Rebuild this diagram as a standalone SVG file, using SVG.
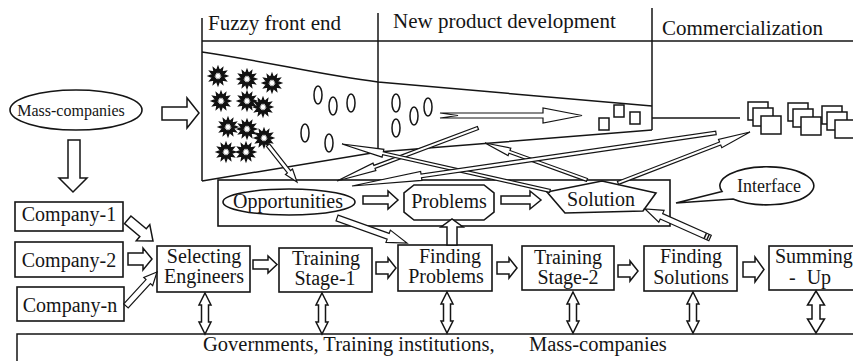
<svg xmlns="http://www.w3.org/2000/svg" xmlns:xlink="http://www.w3.org/1999/xlink" width="853" height="361" viewBox="0 0 853 361">
  <style>
    text { font-family: "Liberation Serif", "Times New Roman", serif; fill: #151515; }
    .t20 { font-size: 20px; }
    .hd { font-size: 21px; }
    .ln { fill: none; stroke: #151515; stroke-width: 1.5; }
    .box { fill: #fff; stroke: #151515; stroke-width: 1.6; }
    .blk { fill: #fff; stroke: #151515; stroke-width: 1.5; stroke-linejoin: miter; }
    .thin { fill: #fff; stroke: #151515; stroke-width: 1.2; stroke-linejoin: miter; }
    .burst { fill: #fff; stroke: #111; stroke-width: 2.6; stroke-linejoin: miter; }
    .oval { fill: #fff; stroke: #151515; stroke-width: 1.5; }
    .sq { fill: #fff; stroke: #151515; stroke-width: 1.5; }
  </style>
  <defs>
    <!-- spiky idea burst -->
    <polygon id="burst" class="burst" points="7.5,0 4.35,1.16 6.5,3.75 3.18,3.18 3.75,6.5 1.16,4.35 0,7.5 -1.16,4.35 -3.75,6.5 -3.18,3.18 -6.5,3.75 -4.35,1.16 -7.5,0 -4.35,-1.16 -6.5,-3.75 -3.18,-3.18 -3.75,-6.5 -1.16,-4.35 0,-7.5 1.16,-4.35 3.75,-6.5 3.18,-3.18 6.5,-3.75 4.35,-1.16"/>
    <!-- refined concept -->
    <ellipse id="oval" class="oval" cx="0" cy="0" rx="4" ry="9"/>
    <!-- small product square -->
    <rect id="sq" class="sq" x="0" y="0" width="20" height="18"/>
    <!-- two-way vertical block arrow -->
    <polygon id="dbl" class="blk" points="0,0 6,12 3.5,12 3.5,29 6,29 0,41 -6,29 -3.5,29 -3.5,12 -6,12"/>
    <!-- three stacked products -->
    <g id="stack">
      <use xlink:href="#sq" x="0" y="0"/>
      <use xlink:href="#sq" x="5" y="6"/>
      <use xlink:href="#sq" x="13" y="14"/>
    </g>
  </defs>

  <!-- phase header -->
  <g id="phases">
    <line class="ln" x1="202" y1="18" x2="202" y2="181"/>
    <line class="ln" x1="378" y1="13" x2="378" y2="152"/>
    <line class="ln" x1="652" y1="8" x2="652" y2="130"/>
    <line class="ln" x1="202" y1="41" x2="853" y2="41"/>
    <text class="hd" x="208" y="30">Fuzzy front end</text>
    <text class="hd" x="393" y="28">New product development</text>
    <text class="hd" x="662" y="35">Commercialization</text>
  </g>

  <!-- innovation funnel -->
  <g id="funnel">
    <path class="ln" d="M202,52 C270,62 320,75 378,82 L652,106"/>
    <path class="ln" d="M202,181 L378,152 L652,130"/>
    <use xlink:href="#burst" x="218" y="76"/>
    <use xlink:href="#burst" x="247" y="79"/>
    <use xlink:href="#burst" x="272" y="83"/>
    <use xlink:href="#burst" x="221" y="101"/>
    <use xlink:href="#burst" x="247" y="101"/>
    <use xlink:href="#burst" x="263" y="107"/>
    <use xlink:href="#burst" x="228" y="127"/>
    <use xlink:href="#burst" x="247" y="129"/>
    <use xlink:href="#burst" x="264" y="138"/>
    <use xlink:href="#burst" x="226" y="152"/>
    <use xlink:href="#burst" x="246" y="152"/>
    <use xlink:href="#oval" x="318" y="95"/>
    <use xlink:href="#oval" x="333" y="106"/>
    <use xlink:href="#oval" x="351" y="103"/>
    <use xlink:href="#oval" x="305" y="133"/>
    <use xlink:href="#oval" x="329" y="143"/>
    <use xlink:href="#oval" x="396" y="103"/>
    <use xlink:href="#oval" x="396" y="128"/>
    <use xlink:href="#oval" x="414" y="116"/>
    <use xlink:href="#oval" x="428" y="107"/>
    <rect class="sq" x="599" y="118" width="10" height="12"/>
    <rect class="sq" x="614" y="105" width="10" height="12"/>
    <rect class="sq" x="630" y="112" width="10" height="12"/>
  </g>

  <!-- launched products -->
  <g id="products">
    <use xlink:href="#stack" x="748" y="102"/>
    <use xlink:href="#stack" x="788" y="103"/>
    <use xlink:href="#stack" x="822" y="106"/>
  </g>

  <g id="mass-companies">
    <ellipse class="box" cx="76" cy="110" rx="66" ry="20"/>
    <text x="71" y="116" font-size="16" text-anchor="middle">Mass-companies</text>
  </g>

  <g id="company-1">
    <rect class="box" x="15" y="202" width="108" height="29"/>
    <text class="t20" x="69" y="221" text-anchor="middle">Company-1</text>
  </g>
  <g id="company-2">
    <rect class="box" x="15" y="242" width="108" height="35"/>
    <text class="t20" x="69" y="267" text-anchor="middle">Company-2</text>
  </g>
  <g id="company-n">
    <rect class="box" x="17" y="287" width="107" height="34"/>
    <text class="t20" x="70" y="312" text-anchor="middle">Company-n</text>
  </g>

  <!-- opportunity / problem / solution panel -->
  <g id="panel">
    <rect class="box" x="218" y="180" width="452" height="46" fill="none"/>
  </g>
  <g id="opportunities">
    <ellipse class="box" cx="289" cy="202" rx="66" ry="13"/>
    <text class="t20" x="288" y="208" text-anchor="middle">Opportunities</text>
  </g>
  <g id="problems">
    <polygon class="box" points="414,185 484,185 494,193 494,212 484,220 414,220 404,212 404,193"/>
    <text class="t20" x="449" y="208" text-anchor="middle">Problems</text>
  </g>
  <g id="solution">
    <polygon class="box" points="547,192 602,181 656,193 643,211 565,213"/>
    <text class="t20" x="601" y="206" text-anchor="middle">Solution</text>
  </g>
  <g id="interface">
    <path class="box" d="M722,191.5 L676,203 L733,199 A47,19 0 1 0 722,191.5 Z"/>
    <text x="769" y="192" font-size="18" text-anchor="middle">Interface</text>
  </g>

  <!-- training process -->
  <g id="selecting-engineers">
    <rect class="box" x="157" y="246" width="93" height="46"/>
    <text class="t20" x="204" y="263" text-anchor="middle">Selecting</text>
    <text class="t20" x="204" y="283" text-anchor="middle">Engineers</text>
  </g>
  <g id="training-stage-1">
    <rect class="box" x="279" y="248" width="93" height="44"/>
    <text class="t20" x="326" y="265" text-anchor="middle">Training</text>
    <text class="t20" x="325" y="285" text-anchor="middle">Stage-1</text>
  </g>
  <g id="finding-problems">
    <rect class="box" x="398" y="245" width="94" height="46"/>
    <text class="t20" x="450" y="263" text-anchor="middle">Finding</text>
    <text class="t20" x="446" y="283" text-anchor="middle">Problems</text>
  </g>
  <g id="training-stage-2">
    <rect class="box" x="522" y="246" width="92" height="44"/>
    <text class="t20" x="568" y="264" text-anchor="middle">Training</text>
    <text class="t20" x="568" y="284" text-anchor="middle">Stage-2</text>
  </g>
  <g id="finding-solutions">
    <rect class="box" x="644" y="246" width="93" height="45"/>
    <text class="t20" x="691" y="263" text-anchor="middle">Finding</text>
    <text class="t20" x="691" y="284" text-anchor="middle">Solutions</text>
  </g>
  <g id="summing-up">
    <rect class="box" x="769" y="246" width="100" height="44"/>
    <text class="t20" x="775" y="263">Summing</text>
    <text class="t20" x="789" y="284" word-spacing="6">- Up</text>
  </g>

  <g id="stakeholders">
    <path class="ln" d="M17,361 L17,334 L853,334"/>
    <text x="203" y="351" font-size="20.5">Governments, Training institutions,</text>
    <text x="529" y="351" font-size="20.5">Mass-companies</text>
  </g>

  <g id="connectors">
    <!-- block arrows -->
    <polygon class="blk" points="162,107 187,107 187,98 199,113 187,128 187,120 162,120"/>
    <polygon class="blk" points="68,140 80,140 80,178 87,178 73,192 59,178 68,178"/>
    <polygon class="blk" points="128,253 143,253 143,248 152,259 143,270 143,265 128,265"/>
    <polygon class="blk" points="-33,-5 -13,-5 -13,-10.5 0,0 -13,10.5 -13,5 -33,5" transform="translate(153,241) rotate(40)"/>
    <polygon class="blk" points="253,260 268,260 268,256 277,264.5 268,273 268,269 253,269"/>
    <polygon class="blk" points="376,262 388,262 388,258 396,268 388,278 388,274 376,274"/>
    <polygon class="blk" points="497,262 509,262 509,258 517,268 509,278 509,274 497,274"/>
    <polygon class="blk" points="618,265 630,265 630,261 638,271 630,281 630,277 618,277"/>
    <polygon class="blk" points="743,262 755,262 755,257 764,269.5 755,282 755,277 743,277"/>
    <polygon class="blk" points="363,196 388,196 388,191 398,200 388,209 388,204 363,204"/>
    <polygon class="blk" points="501,196 530,196 530,191 541,200 530,209 530,204 501,204"/>
    <polygon class="blk" points="447,245 447,227 441,227 452,219 463,227 457,227 457,245"/>

    <!-- links to stakeholders -->
    <use xlink:href="#dbl" x="205" y="293"/>
    <use xlink:href="#dbl" x="322" y="293"/>
    <use xlink:href="#dbl" x="447" y="292"/>
    <use xlink:href="#dbl" x="573" y="292"/>
    <use xlink:href="#dbl" x="693" y="292"/>
    <polygon class="blk" points="816,291 824.5,305 820,305 820,319 824.5,319 816,333 807.5,319 812,319 812,305 807.5,305"/>

    <!-- concepts flowing through the funnel -->
    <polygon class="thin" points="440,113 543,113 543,108 582,115.5 543,123 543,118 440,118 458,115.5"/>
    <line class="ln" x1="652" y1="118" x2="740" y2="118"/>

    <!-- thin feedback arrows -->
    <polygon class="thin" points="-150.6,-1.6 -40,-1.6 -40,-4 0,0 -40,4 -40,1.6 -150.6,1.6" transform="translate(337,181) rotate(159.4)"/>
    <polygon class="thin" points="-213.2,-1.5 -42,-1.5 -42,-4 0,0 -42,4 -42,1.5 -213.2,1.5" transform="translate(342,144) rotate(-167.3)"/>
    <polygon class="thin" points="-108.5,-1.5 -26,-1.5 -26,-4 0,0 -26,4 -26,1.5 -108.5,1.5" transform="translate(485,143) rotate(-160.1)"/>
    <polygon class="thin" points="-367.8,-1.8 -70,-1.8 -70,-4.5 0,0 -70,4.5 -70,1.8 -367.8,1.8" transform="translate(352,186) rotate(171.7)"/>
    <polygon class="thin" points="-141.5,-1.6 -32,-1.6 -32,-4.5 0,0 -32,4.5 -32,1.6 -141.5,1.6" transform="translate(750,132) rotate(-21.1)"/>
    <polygon class="thin" points="-47,-2 -13,-2 -13,-4.5 0,0 -13,4.5 -13,2 -47,2" transform="translate(297,182) rotate(51.9)"/>
    <polygon class="thin" points="-74.3,-3 -20,-3 -20,-6.5 0,0 -20,6.5 -20,3 -74.3,3" transform="translate(407,243) rotate(19.7)"/>
    <polygon class="thin" points="-46,-3 -13,-3 -13,-6 0,0 -13,6 -13,3 -46,3" transform="translate(157,272) rotate(-47.6)"/>
    <g transform="translate(645,209) rotate(-156)">
      <polygon class="thin" points="-71.2,-3 -18,-3 -18,-6.5 0,0 -18,6.5 -18,3 -71.2,3"/>
      <line class="ln" x1="-66" y1="-3" x2="-66" y2="3"/>
      <line class="ln" x1="-69" y1="-3" x2="-69" y2="3"/>
    </g>
  </g>
</svg>
